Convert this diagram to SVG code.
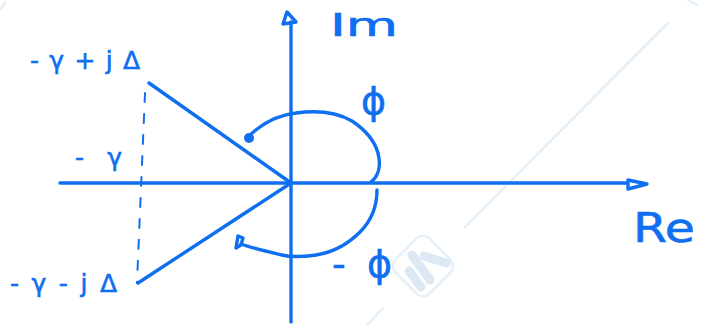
<svg xmlns="http://www.w3.org/2000/svg" width="707" height="325" viewBox="0 0 707 325">
<style>
.ln{fill:none;stroke:#0f6ff0;stroke-width:3.4;stroke-linecap:round;stroke-linejoin:round}
.dash{fill:none;stroke:#0f6ff0;stroke-width:2;stroke-dasharray:9 12;stroke-linecap:round}
.lbl{fill:#0f6ff0;stroke:#0f6ff0;stroke-width:0.6;font-family:"DejaVu Sans","Liberation Sans",sans-serif}
.wm{fill:none;stroke:#e3eef8;stroke-width:2.5;stroke-linecap:round}
.wmb{fill:none;stroke:#dce9f5;stroke-width:9;stroke-linecap:round}
</style>
<rect width="707" height="325" fill="#ffffff"/>
<g id="watermark">
<line class="wm" x1="668" y1="23" x2="465" y2="227"/>
<line class="wm" x1="383" y1="308" x2="367" y2="325"/>
<line class="wm" x1="688" y1="0" x2="697" y2="5"/>
<line class="wm" x1="0" y1="10" x2="5" y2="3"/>
<rect x="399" y="242" width="48" height="48" rx="9" transform="rotate(45 423 266)" fill="none" stroke="#e6f0f9" stroke-width="2.5"/>
<line class="wmb" x1="409" y1="271" x2="421" y2="287"/>
<line class="wmb" x1="412" y1="255" x2="430" y2="280"/>
<line class="wmb" x1="424" y1="256" x2="446" y2="263"/>
</g>
<g id="connectors">
<line class="ln" x1="60" y1="183" x2="627" y2="183"/>
<polygon class="ln" points="628,180 647,184 628,189"/>
<line class="ln" x1="291" y1="322" x2="291" y2="22"/>
<polygon class="ln" points="287,12 296,22 283,24"/>
<line class="ln" x1="149" y1="83" x2="291" y2="183"/>
<line class="ln" x1="291" y1="183" x2="138" y2="283"/>
<line class="dash" x1="145" y1="93" x2="137" y2="283"/>
<path class="ln" d="M248,137 C262,123 278,115 296,113 C318,110 338,113 352,121 C364,129 374,139 378,153 C381,165 379,176 371,182"/>
<circle cx="249" cy="138" r="5" fill="#0f6ff0"/>
<path class="ln" d="M377,190 C377,205 372,220 360,232 C348,244 335,252 316,255 C302,257 290,257 282,255 C265,251 252,248 241,244"/>
<path class="ln" d="M238,236 L236,248 L241,245 L243,238 Z" fill="#0f6ff0"/>
</g>
<g id="labels">
<text class="lbl" x="30" y="69" font-size="25" textLength="110" lengthAdjust="spacing">-γ+jΔ</text>
<text class="lbl" x="75" y="166" font-size="25" textLength="47" lengthAdjust="spacing">-γ</text>
<text class="lbl" x="10" y="292" font-size="25" textLength="107" lengthAdjust="spacing">-γ-jΔ</text>
<text class="lbl" x="330" y="36" font-size="32" textLength="68" lengthAdjust="spacingAndGlyphs">Im</text>
<text class="lbl" x="361" y="114" font-size="38">ϕ</text>
<text class="lbl" x="332" y="277" font-size="38" textLength="60" lengthAdjust="spacing">-ϕ</text>
<text class="lbl" x="633" y="242" font-size="40" textLength="62" lengthAdjust="spacingAndGlyphs">Re</text>
</g>
</svg>
